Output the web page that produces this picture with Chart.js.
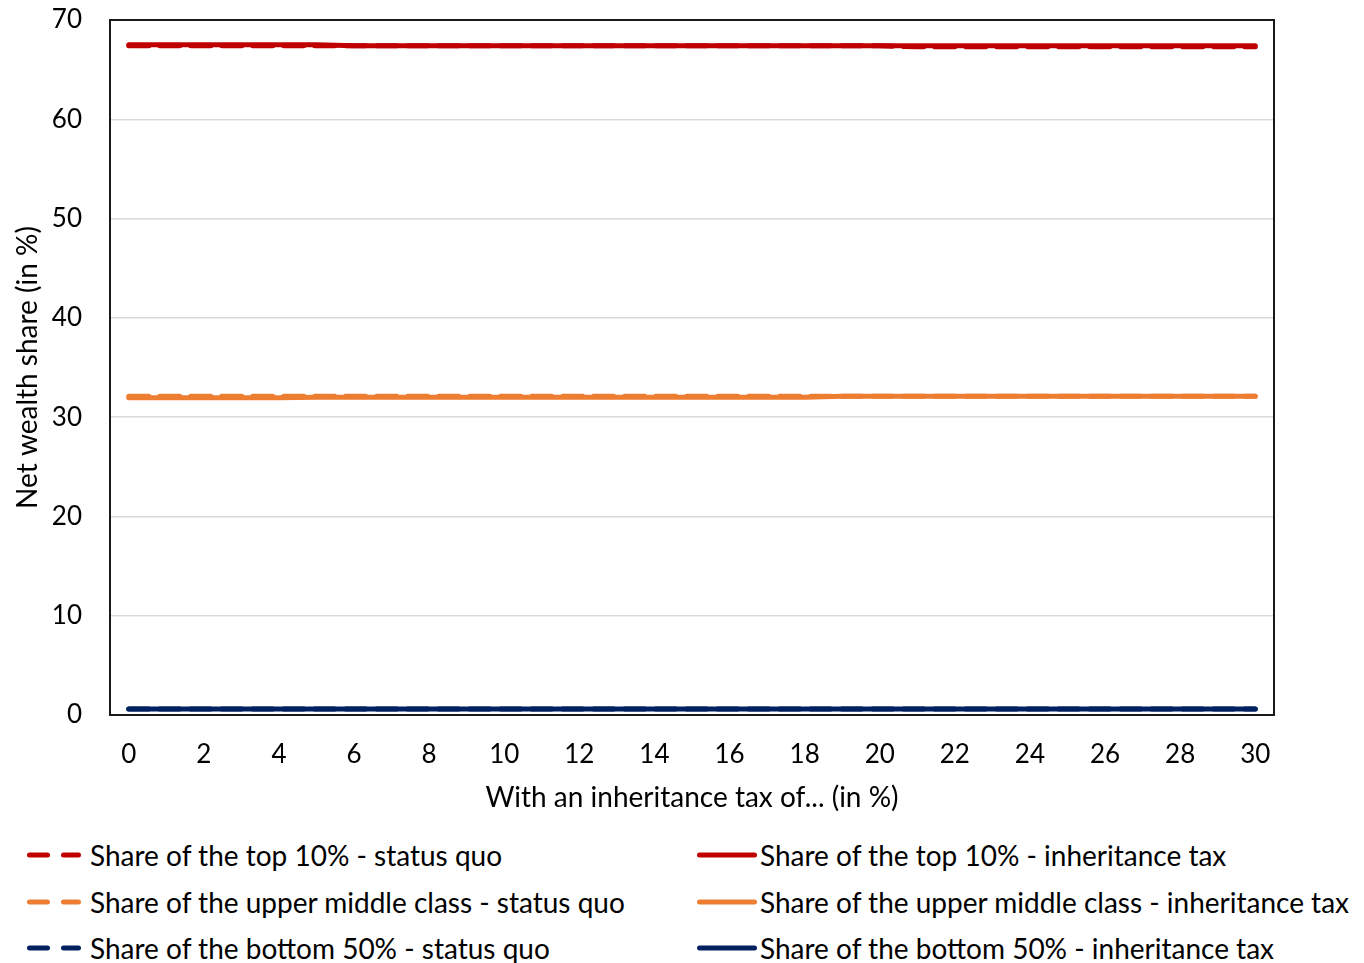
<!DOCTYPE html>
<html>
<head>
<meta charset="utf-8">
<script src="https://cdn.jsdelivr.net/npm/chart.js@4.4.1/dist/chart.umd.min.js"></script>
<style>
  html, body { margin: 0; padding: 0; background: #fff; }
  #wrap { position: relative; width: 1364px; height: 963px; font-family: Lato, "Open Sans", sans-serif; }
  #chartBox { position: absolute; left: 0; top: 0; width: 1364px; height: 830px; }
  #legend { position: absolute; left: 0; top: 830px; width: 1364px; height: 133px; }
  .item { position: absolute; display: flex; align-items: center; height: 40px; font-size: 28px; color: #000; white-space: nowrap; }
  .item svg { flex: none; }
</style>
</head>
<body>
<div id="wrap">
  <div id="chartBox"><canvas id="chart"></canvas></div>
  <div id="legend"></div>
</div>
<script>
// Inheritance tax rate (in %) on the x axis
const taxRates = [0,1,2,3,4,5,6,7,8,9,10,11,12,13,14,15,16,17,18,19,20,21,22,23,24,25,26,27,28,29,30];

// Net wealth shares (in %)
const top10StatusQuo = [67.4,67.4,67.4,67.4,67.4,67.4,67.4,67.4,67.4,67.4,67.4,67.4,67.4,67.4,67.4,67.4,67.4,67.4,67.4,67.4,67.4,67.3,67.3,67.3,67.3,67.3,67.3,67.3,67.3,67.3,67.3];
const top10InheritanceTax = [67.5,67.5,67.5,67.5,67.5,67.5,67.4,67.4,67.4,67.4,67.4,67.4,67.4,67.4,67.4,67.4,67.4,67.4,67.4,67.4,67.4,67.4,67.4,67.4,67.4,67.4,67.4,67.4,67.4,67.4,67.4];
const upperMiddleStatusQuo = [32.1,32.1,32.1,32.1,32.1,32.1,32.1,32.1,32.1,32.1,32.1,32.1,32.1,32.1,32.1,32.1,32.1,32.1,32.1,32.1,32.1,32.1,32.1,32.1,32.1,32.1,32.1,32.1,32.1,32.1,32.1];
const upperMiddleInheritanceTax = [31.95,31.95,31.95,31.95,31.95,32.0,32.0,32.0,32.0,32.0,32.0,32.0,32.0,32.0,32.0,32.0,32.0,32.0,32.0,32.1,32.1,32.1,32.1,32.1,32.1,32.1,32.1,32.1,32.1,32.1,32.1];
const bottom50StatusQuo = [0.6,0.6,0.6,0.6,0.6,0.6,0.6,0.6,0.6,0.6,0.6,0.6,0.6,0.6,0.6,0.6,0.6,0.6,0.6,0.6,0.6,0.6,0.6,0.6,0.6,0.6,0.6,0.6,0.6,0.6,0.6];
const bottom50InheritanceTax = [0.6,0.6,0.6,0.6,0.6,0.6,0.6,0.6,0.6,0.6,0.6,0.6,0.6,0.6,0.6,0.6,0.6,0.6,0.6,0.6,0.6,0.6,0.6,0.6,0.6,0.6,0.6,0.6,0.6,0.6,0.6];

const yTicks = [0,10,20,30,40,50,60,70];

const RED = '#C00000', ORANGE = '#ED7D31', NAVY = '#002060';
const DASH = [20, 11];
const FONT = 'Lato, "Open Sans", sans-serif';

const datasets = [
  { label: 'Share of the top 10% - status quo', data: top10StatusQuo, borderColor: RED, borderDash: DASH, order: 2 },
  { label: 'Share of the top 10% - inheritance tax', data: top10InheritanceTax, borderColor: RED, order: 1 },
  { label: 'Share of the upper middle class - status quo', data: upperMiddleStatusQuo, borderColor: ORANGE, borderDash: DASH, order: 2 },
  { label: 'Share of the upper middle class - inheritance tax', data: upperMiddleInheritanceTax, borderColor: ORANGE, order: 1 },
  { label: 'Share of the bottom 50% - status quo', data: bottom50StatusQuo, borderColor: NAVY, borderDash: DASH, order: 2 },
  { label: 'Share of the bottom 50% - inheritance tax', data: bottom50InheritanceTax, borderColor: NAVY, order: 1 }
].map(d => Object.assign({
  borderWidth: 5, pointRadius: 0, fill: false, tension: 0,
  borderCapStyle: 'round', borderJoinStyle: 'round', backgroundColor: d.borderColor
}, d));

// frame around the plot area
const frame = {
  id: 'frame',
  afterDatasetsDraw(chart) {
    const a = chart.chartArea, c = chart.ctx;
    c.save();
    c.strokeStyle = '#1a1a1a';
    c.lineWidth = 2;
    c.strokeRect(a.left, a.top, a.right - a.left, a.bottom - a.top);
    c.restore();
  }
};

const chart = new Chart(document.getElementById('chart'), {
  type: 'line',
  data: { labels: taxRates, datasets },
  plugins: [frame],
  options: {
    responsive: true,
    maintainAspectRatio: false,
    animation: false,
    layout: { padding: { top: 20, right: 90, left: 0, bottom: 0 } },
    plugins: { legend: { display: false }, tooltip: { enabled: false } },
    scales: {
      x: {
        offset: true,
        grid: { display: false, drawTicks: false },
        border: { display: false },
        ticks: {
          autoSkip: false, maxRotation: 0, padding: 24, color: '#000',
          font: { family: FONT, size: 26 },
          callback: (v, i) => (taxRates[i] % 2 === 0 ? String(taxRates[i]) : '')
        },
        title: { display: true, text: 'With an inheritance tax of... (in %)', color: '#000',
                 font: { family: FONT, size: 28 }, padding: { top: 0, bottom: 15 } },
        afterFit: s => { s.height = 115; s.paddingLeft = 0; s.paddingRight = 0; }
      },
      y: {
        min: 0, max: 70,
        afterBuildTicks: s => { s.ticks = yTicks.map(v => ({ value: v })); },
        grid: { color: '#d9d9d9', lineWidth: 1.5, drawTicks: false },
        border: { display: false },
        ticks: { padding: 28, color: '#000', font: { family: FONT, size: 26 } },
        title: { display: true, text: 'Net wealth share (in %)', color: '#000',
                 font: { family: FONT, size: 28 }, padding: { top: 11, bottom: 0 } },
        afterFit: s => { s.width = 110; s.paddingTop = 0; s.paddingBottom = 0; }
      }
    }
  }
});

// two-column legend below the chart
const legendBox = document.getElementById('legend');
const rowY = [25, 72, 118];
datasets.forEach((d, i) => {
  const row = Math.floor(i / 2), col = i % 2;
  const el = document.createElement('div');
  el.className = 'item';
  el.style.top = (rowY[row] - 20) + 'px';
  el.style.left = (col === 0 ? 27 : 697) + 'px';
  const w = col === 0 ? 54 : 60;
  const dash = d.borderDash ? 'stroke-dasharray="18 16"' : '';
  el.innerHTML =
    `<svg width="${w}" height="10"><line x1="2.5" y1="5" x2="${w - 2.5}" y2="5" stroke="${d.borderColor}" stroke-width="5" stroke-linecap="round" ${dash}/></svg>` +
    `<span style="margin-left:${col === 0 ? 9 : 3}px">${d.label}</span>`;
  legendBox.appendChild(el);
});
</script>
</body>
</html>
